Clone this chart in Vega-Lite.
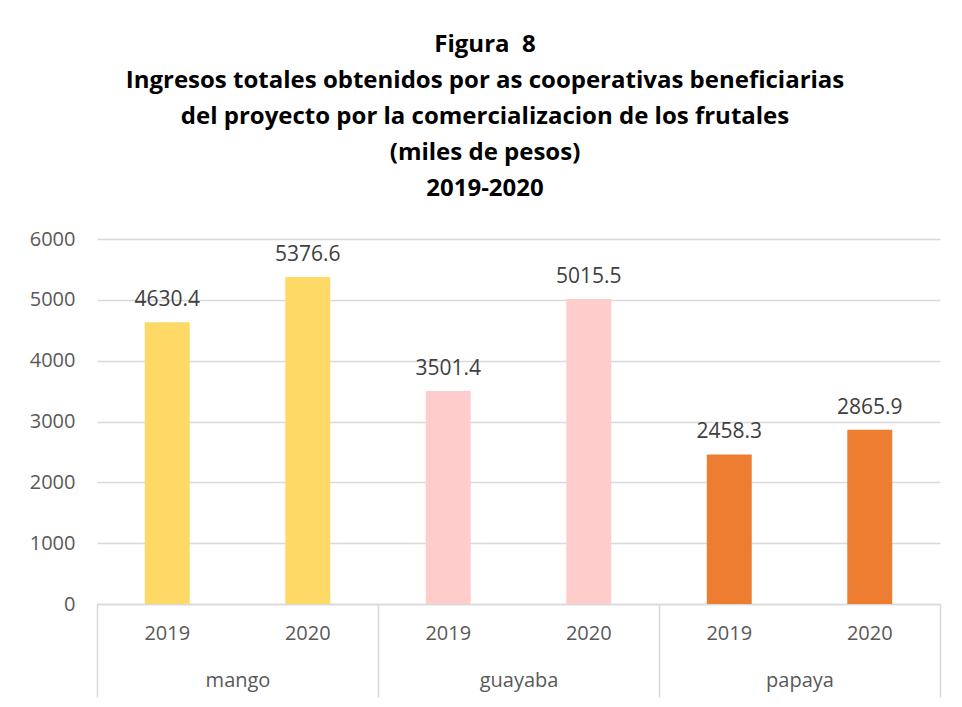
{
  "$schema": "https://vega.github.io/schema/vega-lite/v6.json",
  "width": 843,
  "height": 365,
  "autosize": "none",
  "padding": {"left": 97, "top": 239, "right": 22, "bottom": 103},
  "background": "white",
  "config": {"view": {"stroke": null}, "font": "Open Sans"},
  "title": {
    "text": ["Figura \u00a08", "Ingresos totales obtenidos por as cooperativas beneficiarias", "del proyecto por la comercializacion de los frutales", "(miles de pesos)", "2019-2020"],
    "font": "Open Sans",
    "fontSize": 24,
    "fontWeight": "bold",
    "color": "#000000",
    "lineHeight": 36,
    "frame": "bounds",
    "anchor": "middle",
    "offset": 28
  },
  "data": {
    "values": [
      {"fruta": "mango", "anio": "2019", "key": "mango|2019", "valor": 4630.4},
      {"fruta": "mango", "anio": "2020", "key": "mango|2020", "valor": 5376.6},
      {"fruta": "guayaba", "anio": "2019", "key": "guayaba|2019", "valor": 3501.4},
      {"fruta": "guayaba", "anio": "2020", "key": "guayaba|2020", "valor": 5015.5},
      {"fruta": "papaya", "anio": "2019", "key": "papaya|2019", "valor": 2458.3},
      {"fruta": "papaya", "anio": "2020", "key": "papaya|2020", "valor": 2865.9}
    ]
  },
  "layer": [
    {
      "encoding": {
        "x": {
          "field": "key",
          "type": "nominal",
          "sort": ["mango|2019", "mango|2020", "guayaba|2019", "guayaba|2020", "papaya|2019", "papaya|2020"],
          "scale": {"paddingInner": 0.68, "paddingOuter": 0.34},
          "axis": {
            "orient": "bottom",
            "title": null,
            "labelExpr": "split(datum.label, '|')[1]",
            "labelAngle": 0,
            "labelFont": "Open Sans",
            "labelFontSize": 20,
            "labelColor": "#595959",
            "labelPadding": 19,
            "ticks": false,
            "domain": false,
            "grid": false
          }
        },
        "y": {
          "field": "valor",
          "type": "quantitative",
          "scale": {"domain": [0, 6000], "nice": false},
          "axis": {
            "title": null,
            "values": [0, 1000, 2000, 3000, 4000, 5000, 6000],
            "format": "d",
            "labelFont": "Open Sans",
            "labelFontSize": 20,
            "labelColor": "#595959",
            "labelPadding": 22,
            "ticks": false,
            "domain": false,
            "grid": true,
            "gridColor": "#D9D9D9",
            "gridWidth": 1.5
          }
        }
      },
      "layer": [
        {
          "mark": {"type": "bar"},
          "encoding": {
            "color": {
              "field": "fruta",
              "type": "nominal",
              "scale": {"domain": ["mango", "guayaba", "papaya"], "range": ["#FFD966", "#FFCCCC", "#ED7D31"]},
              "legend": null
            }
          }
        },
        {
          "mark": {"type": "text", "baseline": "alphabetic", "dy": -16, "font": "Open Sans", "fontSize": 21, "color": "#404040"},
          "encoding": {
            "text": {"field": "valor", "type": "quantitative", "format": ".1f"}
          }
        }
      ]
    },
    {
      "mark": {"type": "point", "opacity": 0},
      "encoding": {
        "x": {
          "field": "fruta",
          "type": "nominal",
          "sort": ["mango", "guayaba", "papaya"],
          "scale": {"paddingInner": 0, "paddingOuter": 0},
          "axis": {
            "orient": "bottom",
            "title": null,
            "labelAngle": 0,
            "labelFont": "Open Sans",
            "labelFontSize": 20,
            "labelColor": "#595959",
            "tickBand": "extent",
            "tickSize": 93,
            "tickColor": "#D9D9D9",
            "tickWidth": 1.5,
            "labelPadding": -27,
            "domain": true,
            "domainColor": "#D9D9D9",
            "domainWidth": 1.5,
            "grid": false
          }
        },
        "y": {"field": "valor", "type": "quantitative"}
      }
    }
  ],
  "resolve": {"scale": {"x": "independent"}}
}
